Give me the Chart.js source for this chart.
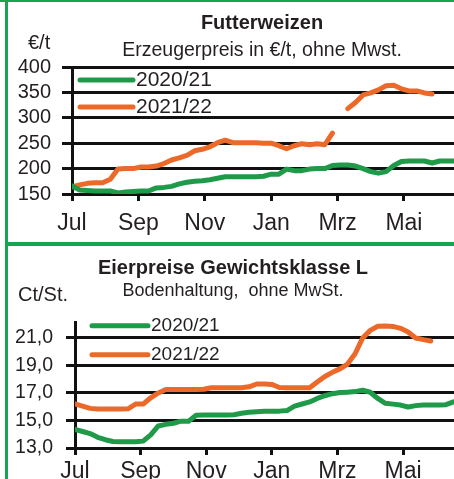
<!DOCTYPE html>
<html>
<head>
<meta charset="utf-8">
<script src="https://cdn.jsdelivr.net/npm/chart.js@4.4.1/dist/chart.umd.min.js"></script>
<style>
  html, body { margin: 0; padding: 0; background: #fff; overflow: hidden; }
  #page { position: relative; width: 454px; height: 479px; overflow: hidden; }
  canvas { position: absolute; left: 0; }
  #wheat { top: 0; }
  #eggs { top: 243px; }
  .frame { position: absolute; background: #14a651; }
</style>
</head>
<body>
<div id="page">
  <canvas id="wheat" width="524" height="243"></canvas>
  <canvas id="eggs" width="466" height="254"></canvas>
  <div class="frame" style="left:0;top:0;width:454px;height:2px"></div>
  <div class="frame" style="left:5px;top:0;width:3px;height:479px"></div>
  <div class="frame" style="left:5px;top:242px;width:449px;height:4px"></div>
</div>
<script>
// weekly values, week 0 = start of July
const seasons = ['2020/21', '2021/22'];
const monthLabels = ['Jul', 'Sep', 'Nov', 'Jan', 'Mrz', 'Mai'];
const monthWeeks = [0, 8.67, 17.33, 26, 34.67, 43.33];

// Futterweizen, €/t
const wheat2021 = [166, 158, 157, 156, 156, 156, 152, 154, 155, 156, 156, 162, 163, 165, 170, 173, 175, 176, 178, 181,
  184, 184, 184, 184, 184, 185, 189, 189, 199, 196, 196, 199, 200, 200, 206, 207, 207, 205, 200, 194,
  191, 194, 206, 214, 215, 215, 215, 211, 215, 215, 215];
const wheat2122 = [164, 168, 171, 172, 172, 179, 199, 200, 200, 203, 203, 205, 210, 217, 221, 226, 235, 238, 243, 251,
  256, 251, 251, 251, 251, 250, 250, 245, 239, 245, 249, 247, 249, 247, 270, null, 318, 330, 345, 349,
  355, 363, 364, 357, 353, 353, 349, 347];
const wheatTicks = [150, 200, 250, 300, 350, 400];

// Eierpreise Gewichtsklasse L, Ct/St.
const egg2021 = [14.36, 14.2, 14.05, 13.78, 13.6, 13.47, 13.45, 13.45, 13.45, 13.5, 13.95, 14.6, 14.72, 14.8, 14.95, 14.95,
  15.38, 15.4, 15.4, 15.4, 15.4, 15.42, 15.52, 15.6, 15.64, 15.67, 15.68, 15.68, 15.72, 16.05, 16.2, 16.35,
  16.6, 16.8, 16.95, 17.03, 17.06, 17.1, 17.2, 17.05, 16.6, 16.25, 16.19, 16.12, 15.98, 16.08, 16.12, 16.12,
  16.12, 16.15, 16.35];
const egg2122 = [16.2, 16.05, 15.88, 15.83, 15.83, 15.83, 15.83, 15.85, 16.19, 16.19, 16.65, 17.0, 17.25, 17.26, 17.26, 17.26,
  17.26, 17.27, 17.38, 17.38, 17.38, 17.38, 17.38, 17.45, 17.65, 17.65, 17.62, 17.4, 17.38, 17.38, 17.38, 17.38,
  17.8, 18.2, 18.5, 18.75, 19.1, 19.85, 21.0, 21.55, 21.85, 21.86, 21.84, 21.7, 21.43, 21.0, 20.88, 20.78];
const eggTicks = [13, 15, 17, 19, 21];

const GREEN = '#1f9a48';
const ORANGE = '#eb6a2a';
const INK = '#231f20';
const SANS = '"Liberation Sans", Arial, sans-serif';
const NARROW = '"Liberation Sans Narrow", "Arial Narrow", sans-serif';

const toPoints = arr => arr.map((v, i) => ({ x: i, y: v }));

// unit label above the y axis + line legend inside the plot
const extras = {
  id: 'extras',
  afterDraw(chart, args, o) {
    const { ctx, chartArea } = chart;
    ctx.save();
    ctx.fillStyle = INK;
    ctx.textBaseline = 'middle';
    ctx.textAlign = 'left';
    ctx.font = '20px ' + SANS;
    ctx.fillText(o.unit, o.unitX, o.unitY);
    chart.data.datasets.forEach((ds, i) => {
      const x = chartArea.left + o.legendLeft;
      const y = chartArea.top + o.legendTop + i * o.legendGap;
      ctx.strokeStyle = ds.borderColor;
      ctx.lineWidth = 5;
      ctx.lineCap = 'round';
      ctx.beginPath();
      ctx.moveTo(x, y);
      ctx.lineTo(x + o.legendLen, y);
      ctx.stroke();
      ctx.font = o.legendFont;
      ctx.fillText(ds.label, x + o.legendLen + 3, y);
    });
    ctx.restore();
  }
};

function makeChart(id, cfg) {
  return new Chart(document.getElementById(id), {
    type: 'line',
    data: {
      datasets: [
        { label: seasons[0], data: toPoints(cfg.a), borderColor: GREEN },
        { label: seasons[1], data: toPoints(cfg.b), borderColor: ORANGE }
      ]
    },
    options: {
      responsive: false,
      animation: false,
      devicePixelRatio: 1,
      layout: { padding: 0 },
      elements: {
        line: { borderWidth: 5, tension: 0, borderJoinStyle: 'round', borderCapStyle: 'round' },
        point: { radius: 0 }
      },
      scales: {
        x: {
          type: 'linear',
          min: 0,
          max: cfg.xMax,
          afterBuildTicks: s => { s.ticks = monthWeeks.map(v => ({ value: v })); },
          afterFit: s => { s.height = cfg.xHeight; },
          grid: { drawOnChartArea: false, color: '#111', lineWidth: 3, tickLength: 7 },
          border: { color: '#111', width: 3 },
          ticks: {
            autoSkip: false, maxRotation: 0, padding: cfg.xPad, color: INK,
            font: { family: NARROW, size: 23 },
            callback: (v, i) => monthLabels[i]
          }
        },
        y: {
          min: cfg.yMin,
          max: cfg.yMax,
          afterBuildTicks: s => { s.ticks = cfg.yTicks.map(v => ({ value: v })); },
          afterFit: s => { s.width = cfg.yWidth; },
          grid: { color: '#111', lineWidth: 3, tickLength: cfg.yTick },
          border: { color: '#111', width: 3 },
          ticks: {
            autoSkip: false, padding: cfg.yPad, color: INK,
            font: { family: SANS, size: cfg.yFont },
            callback: cfg.fmt
          }
        }
      },
      plugins: {
        legend: { display: false },
        tooltip: { enabled: false },
        title: {
          display: true, text: cfg.title, color: INK,
          font: { family: SANS, size: 20, weight: 'bold' },
          padding: cfg.titlePad
        },
        subtitle: {
          display: true, text: cfg.subtitle, color: INK,
          font: { family: SANS, size: cfg.subFont },
          padding: cfg.subPad
        },
        extras: cfg.extras
      }
    },
    plugins: [extras]
  });
}

makeChart('wheat', {
  a: wheat2021, b: wheat2122,
  xMax: 59, xHeight: 49, xPad: 9,
  yMin: 150, yMax: 400, yTicks: wheatTicks, yWidth: 72, yTick: 10, yPad: 11, yFont: 20,
  fmt: v => String(v),
  title: 'Futterweizen', titlePad: { top: 11, bottom: 0 },
  subtitle: 'Erzeugerpreis in €/t, ohne Mwst.', subFont: 19.5, subPad: { top: 4, bottom: 4.6 },
  extras: { unit: '€/t', unitX: 28, unitY: 43, legendLeft: 8, legendTop: 13, legendGap: 27, legendLen: 53,
            legendFont: '21px ' + SANS }
});

makeChart('eggs', {
  a: egg2021, b: egg2122,
  xMax: 51.65, xHeight: 49, xPad: 3,
  yMin: 13, yMax: 22.1, yTicks: eggTicks, yWidth: 75, yTick: 9, yPad: 13, yFont: 19.5,
  fmt: v => v.toFixed(1).replace('.', ','),
  title: 'Eierpreise Gewichtsklasse L', titlePad: { top: 13, bottom: 0 },
  subtitle: 'Bodenhaltung,  ohne MwSt.', subFont: 18, subPad: { top: 0.5, bottom: 20.7 },
  extras: { unit: 'Ct/St.', unitX: 18, unitY: 52, legendLeft: 17, legendTop: 3, legendGap: 29, legendLen: 56,
            legendFont: '19px ' + SANS }
});
</script>
</body>
</html>
